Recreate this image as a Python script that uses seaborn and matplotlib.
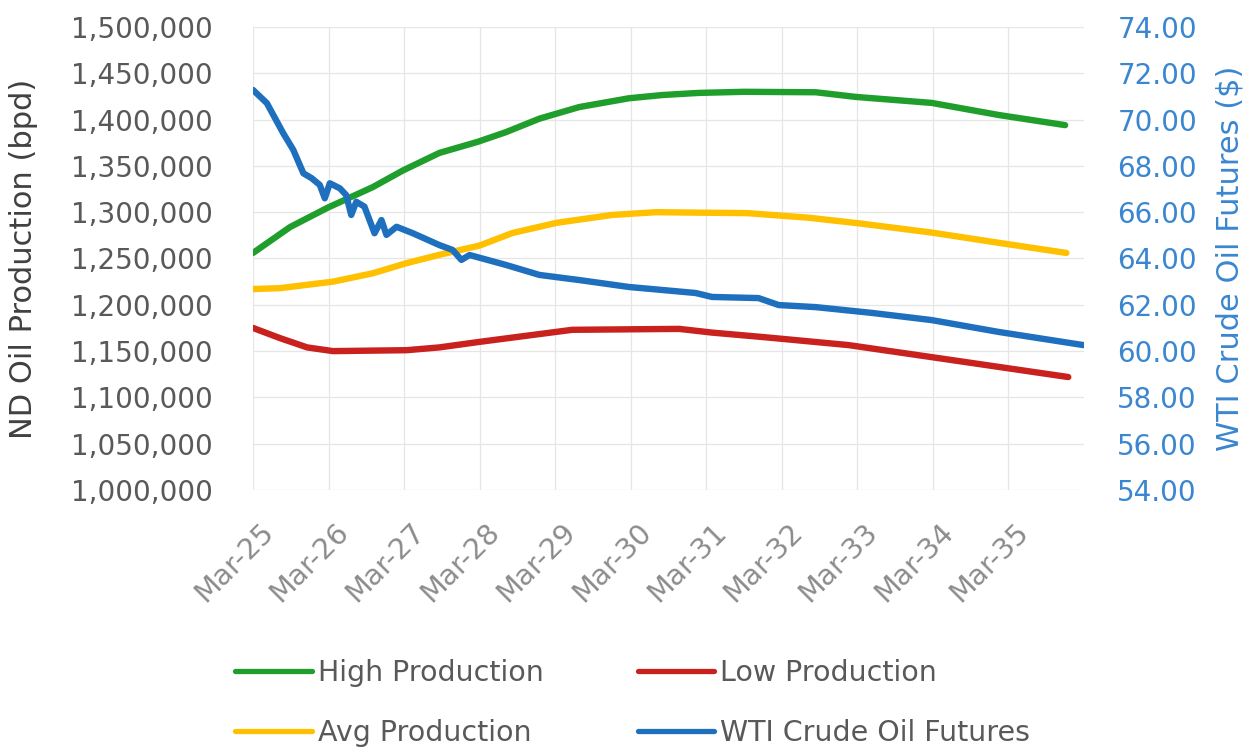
import numpy as np
import pandas as pd
import matplotlib
matplotlib.use('Agg')
import matplotlib.pyplot as plt
import matplotlib.ticker as mticker
from matplotlib.transforms import ScaledTranslation
import seaborn as sns

# ── data (x = months since Mar-25) ─────────────────────────
tick_labels = ['Mar-25', 'Mar-26', 'Mar-27', 'Mar-28', 'Mar-29', 'Mar-30',
               'Mar-31', 'Mar-32', 'Mar-33', 'Mar-34', 'Mar-35']

high_m = [0, 5.9, 11.9, 19.0, 23.8, 29.6, 35.7, 40.2, 45.5, 51.8, 59.7,
          65.0, 70.8, 78.0, 89.4, 95.7, 107.8, 118.4, 129.0]
high_v = [1256000, 1284000, 1305000, 1327000, 1345000, 1364000, 1376000,
          1386500, 1401000, 1413500, 1423000, 1426500, 1428800, 1430000,
          1429500, 1424500, 1418000, 1405000, 1394000]

avg_m = [0, 4.3, 12.7, 19.0, 24.4, 29.6, 36.0, 41.2, 48.2, 57.0, 64.0,
         70.8, 78.5, 88.3, 96.2, 107.8, 118.4, 129.2]
avg_v = [1217000, 1218000, 1225000, 1234000, 1245000, 1254000, 1264000,
         1277500, 1288500, 1297000, 1300000, 1299500, 1299000, 1294000,
         1288000, 1278000, 1267000, 1256000]

low_m = [0, 4.3, 8.6, 12.7, 24.4, 29.6, 36.0, 43.9, 50.7, 67.7, 72.9,
         81.3, 94.6, 107.8, 118.4, 129.5]
low_v = [1175000, 1164000, 1154000, 1150000, 1151000, 1154000, 1160000,
         1167000, 1173000, 1174000, 1170000, 1165000, 1156500, 1143500,
         1133000, 1122000]

wti_m = [0, 2.2, 4.8, 6.4, 8.0, 9.3, 10.6, 11.4, 12.2, 13.8, 14.8, 15.6,
         16.4, 17.7, 19.3, 20.4, 21.2, 22.8, 25.4, 29.6, 31.7, 33.1, 34.4,
         40.2, 45.5, 51.8, 59.7, 65.0, 70.3, 72.9, 80.3, 83.5, 89.4, 98.3,
         107.8, 118.4, 131.9]
wti_v = [71.28, 70.71, 69.41, 68.69, 67.68, 67.47, 67.18, 66.60, 67.25,
         67.03, 66.74, 65.88, 66.45, 66.24, 65.09, 65.66, 65.02, 65.37,
         65.09, 64.58, 64.37, 63.94, 64.15, 63.72, 63.29, 63.07, 62.77,
         62.64, 62.51, 62.34, 62.29, 61.99, 61.90, 61.65, 61.34, 60.83,
         60.26]

# ── style ──────────────────────────────────────────────────
sns.set_style('white')
plt.rcParams['font.family'] = ['DejaVu Sans']

GREEN, RED, GOLD, BLUE = '#1f9e2c', '#c9211e', '#ffc000', '#1f6fbf'
GRAY_TXT = '#595959'
AX_BLUE = '#3a86d0'

fig = plt.figure(figsize=(12.47, 7.47), dpi=100)
ax = fig.add_axes([0.2029, 0.344, 0.6664, 0.6199])
ax2 = ax.twinx()

lw = 4.6
sns.lineplot(x=high_m, y=high_v, ax=ax, color=GREEN, lw=lw, sort=False)
sns.lineplot(x=low_m, y=low_v, ax=ax, color=RED, lw=lw, sort=False)
sns.lineplot(x=avg_m, y=avg_v, ax=ax, color=GOLD, lw=lw, sort=False)
sns.lineplot(x=wti_m, y=wti_v, ax=ax2, color=BLUE, lw=lw, sort=False)

# left axis
ax.set_ylim(1000000, 1500000)
ax.set_yticks(np.arange(1000000, 1500001, 50000))
ax.yaxis.set_major_formatter(mticker.StrMethodFormatter('{x:,.0f}'))
ax.tick_params(axis='y', length=0, pad=29, labelsize=20, labelcolor=GRAY_TXT)
ax.set_ylabel('ND Oil Production (bpd)', fontsize=22, color='#404040')
ax.yaxis.set_label_coords(-0.259, 0.5)

# right axis
ax2.set_ylim(54, 74)
ax2.set_yticks(np.arange(54, 74.1, 2))
ax2.yaxis.set_major_formatter(mticker.StrMethodFormatter('{x:.2f}'))
ax2.tick_params(axis='y', length=0, pad=24, labelsize=20, labelcolor=AX_BLUE)
ax2.set_ylabel('WTI Crude Oil Futures ($)', fontsize=22, color=AX_BLUE,
               rotation=90)
ax2.yaxis.set_label_coords(1.158, 0.5)

# x axis
ax.set_xlim(0, 132)
ax.set_xticks(np.arange(0, 121, 12))
ax.set_xticklabels(tick_labels, rotation=45, ha='right', va='center',
                   rotation_mode='anchor', fontsize=20.5, color='#8c8c8c')
ax.tick_params(axis='x', length=0, pad=27)
for lab in ax.get_xticklabels():
    lab.set_transform(lab.get_transform() +
                      ScaledTranslation(0.16, 0, fig.dpi_scale_trans))

ax.grid(True, color='#e6e6e6', lw=0.9)
ax2.grid(False)
for a in (ax, ax2):
    for s in a.spines.values():
        s.set_visible(False)
    a.set_xlabel('')

# legend (row 1: High, Low / row 2: Avg, WTI)
hl = ax.get_lines()
h_high, h_low, h_avg = hl[0], hl[1], hl[2]
h_wti = ax2.get_lines()[0]
handles = [h_high, h_avg, h_low, h_wti]
labels = ['High Production', 'Avg Production', 'Low Production',
          'WTI Crude Oil Futures']
leg = fig.legend(handles, labels, ncol=2, loc='upper left',
                 bbox_to_anchor=(235 / 1247, 1 - 659 / 747),
                 frameon=False, fontsize=20.5, handlelength=2.7,
                 handletextpad=0.21, columnspacing=3.3, labelspacing=1.13,
                 borderpad=0, borderaxespad=0)
for t in leg.get_texts():
    t.set_color(GRAY_TXT)
for lh in leg.get_lines():
    lh.set_linewidth(3.8)

fig.savefig('out.png', dpi=100)
